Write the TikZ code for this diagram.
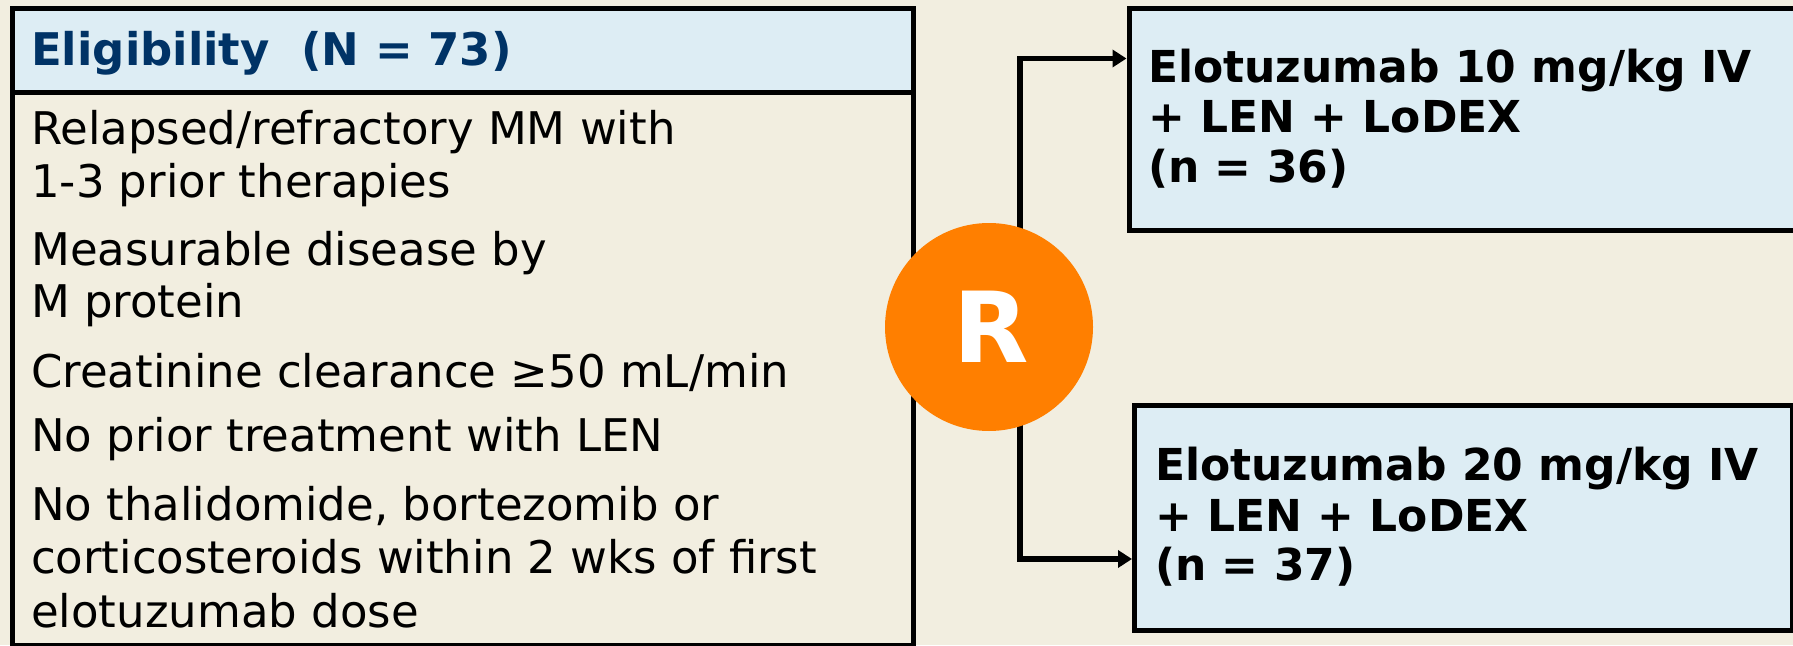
\documentclass[tikz,border=0pt]{standalone}
\usepackage{fontspec}
\setmainfont{DejaVu Sans}
\usetikzlibrary{arrows.meta,calc}
\definecolor{bgc}{RGB}{242,238,224}
\definecolor{boxfill}{RGB}{221,237,244}
\definecolor{hdrc}{RGB}{0,51,102}
\definecolor{rorange}{RGB}{255,127,0}
\begin{document}
\begin{tikzpicture}[x=1pt,y=-1pt,
  panel/.style={draw=black, line width=5pt, inner sep=0pt, anchor=north west},
  armbox/.style={draw=black, line width=5pt, fill=boxfill, inner sep=0pt, anchor=north west},
  txt/.style={anchor=base west, inner sep=0pt, font=\fontsize{45}{50}\selectfont},
  btxt/.style={anchor=base west, inner sep=0pt, font=\bfseries\fontsize{44}{50}\selectfont},
  conn/.style={line width=5.5pt, -{Triangle[length=14pt,width=17pt]}}]
\fill[bgc] (0,0) rectangle (1793,645);
\useasboundingbox (0,0) rectangle (1793,645);
% eligibility panel
\node[panel, minimum width=901pt, minimum height=637pt] (elig) at (10,6) {};
\node[panel, fill=boxfill, minimum width=901pt, minimum height=83.5pt] (hdr) at (10,6) {};
\node[btxt, text=hdrc, font=\bfseries\fontsize{45}{50}\selectfont] (htxt) at (31,65) {Eligibility\ \ (N = 73)};
\node[txt] (l1) at (31,144) {Relapsed/refractory MM with};
\node[txt] (l2) at (31,197) {1-3 prior therapies};
\node[txt] (l3) at (31,265) {Measurable disease by};
\node[txt] (l4) at (31,317) {M protein};
\node[txt] (l5) at (31,387) {Creatinine clearance ≥50 mL/min};
\node[txt] (l6) at (31,451) {No prior treatment with LEN};
\node[txt] (l7) at (31,520) {No thalidomide, bortezomib or};
\node[txt] (l8) at (31,573) {corticosteroids within 2 wks of first};
\node[txt] (l9) at (31,627) {elotuzumab dose};
% arm boxes
\node[armbox, minimum width=673.5pt, minimum height=221.5pt] (arm1) at (1126.5,6) {};
\node[armbox, minimum width=657.5pt, minimum height=225.5pt] (arm2) at (1132,402.5) {};
\node[btxt] (a1) at (1148,82) {Elotuzumab 10 mg/kg IV};
\node[btxt] (a2) at (1148,132) {+ LEN + LoDEX};
\node[btxt] (a3) at (1148,182) {(n = 36)};
\node[btxt] (b1) at (1155,480) {Elotuzumab 20 mg/kg IV};
\node[btxt] (b2) at (1155,531) {+ LEN + LoDEX};
\node[btxt] (b3) at (1155,580) {(n = 37)};
% connectors
\coordinate (j) at (1020,327);
\draw[conn] (j) |- ([yshift=-52.5pt]arm1.north west);
\draw[conn] (j) |- ([yshift=-156.5pt]arm2.north west);
% randomisation circle
\node[circle, fill=rorange, minimum size=208pt, inner sep=0pt, text=white, font=\bfseries\fontsize{98}{98}\selectfont] (R) at (989,327) {\raisebox{-4pt}{\hspace{5pt}R}};
\end{tikzpicture}
\end{document}
